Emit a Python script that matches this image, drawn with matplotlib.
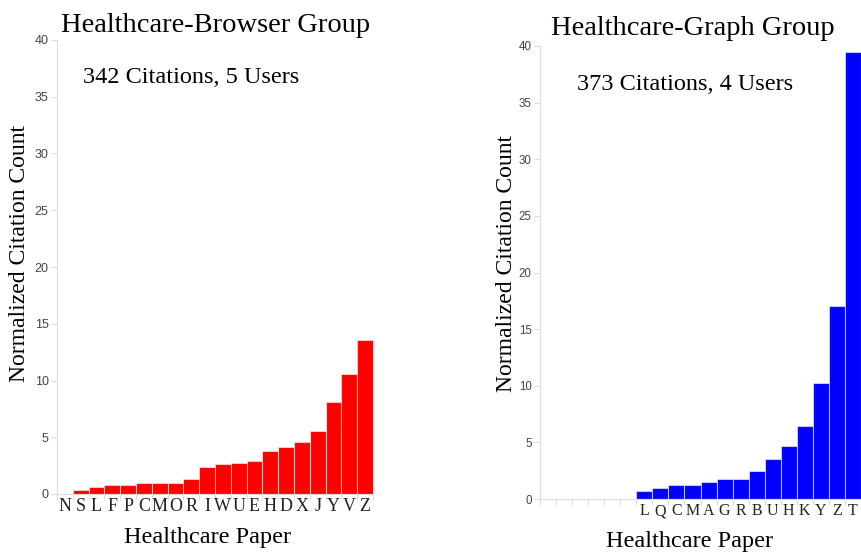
#! usr/bin/env python3

import numpy as np
import matplotlib.pyplot as plt

plt.rcParams['font.family'] = ['Liberation Serif', 'DejaVu Serif']

# Healthcare-Browser group
browser_papers = ['N', 'S', 'L', 'F', 'P', 'C', 'M', 'O', 'R', 'I',
                  'W', 'U', 'E', 'H', 'D', 'X', 'J', 'Y', 'V', 'Z']
browser_counts = [0.0, 0.35, 0.58, 0.8, 0.8, 0.95, 0.95, 0.95, 1.35, 2.35,
                  2.6, 2.75, 2.95, 3.75, 4.15, 4.55, 5.55, 8.1, 10.55, 13.6]

# Healthcare-Graph group (first six slots empty)
graph_papers = ['', '', '', '', '', '', 'L', 'Q', 'C', 'M',
                'A', 'G', 'R', 'B', 'U', 'H', 'K', 'Y', 'Z', 'T']
graph_counts = [0, 0, 0, 0, 0, 0, 0.73, 1.0, 1.24, 1.24,
                1.5, 1.76, 1.76, 2.5, 3.5, 4.7, 6.47, 10.2, 17.0, 39.45]

yticks = [0, 5, 10, 15, 20, 25, 30, 35, 40]

W, H = 861, 553
fig = plt.figure(figsize=(W/100, H/100), dpi=100)


def px_axes(x0, y0, x1, y1):
    return fig.add_axes([x0/W, 1 - y1/H, (x1-x0)/W, (y1-y0)/H])


def draw(ax, papers, counts, color, xfs, yfs):
    x = np.arange(len(papers))
    ax.bar(x, counts, width=1.0, color=color,
           edgecolor=(1, 1, 1, 0.55), linewidth=0.8)
    ax.set_xlim(-0.5, len(papers) - 0.5)
    ax.set_ylim(0, 40)
    for s in ['top', 'right']:
        ax.spines[s].set_visible(False)
    for s in ['left', 'bottom']:
        ax.spines[s].set_color('#dddddd')
        ax.spines[s].set_linewidth(0.8)
    ax.set_xticks(np.arange(-0.5, len(papers), 1))
    ax.set_xticklabels([])
    ax.set_xticks(x, minor=True)
    ax.set_xticklabels(papers, minor=True, fontsize=xfs, color='#222222')
    ax.tick_params(axis='x', which='major', length=4, color='#dddddd')
    ax.tick_params(axis='x', which='minor', length=0, pad=3)
    ax.set_yticks(yticks)
    ax.set_yticklabels([str(t) for t in yticks], family='Liberation Sans',
                       fontsize=yfs, color='#444444')
    ax.tick_params(axis='y', length=4, color='#dddddd', pad=2)


ax1 = px_axes(57, 40, 373, 494)
draw(ax1, browser_papers, browser_counts, '#ff0000', 13, 9)
ax2 = px_axes(540, 46, 861, 499)
draw(ax2, graph_papers, graph_counts, '#0000ff', 11.5, 8.3)

# titles and notes
fig.text(216/W, 1 - 32/H, 'Healthcare-Browser Group', ha='center', va='baseline', fontsize=20.5)
fig.text(693/W, 1 - 35/H, 'Healthcare-Graph Group', ha='center', va='baseline', fontsize=20.5)
fig.text(83/W, 1 - 83/H, '342 Citations, 5 Users', ha='left', va='baseline', fontsize=17.5)
fig.text(577/W, 1 - 90/H, '373 Citations, 4 Users', ha='left', va='baseline', fontsize=17.5)

fig.text(207/W, 1 - 543/H, 'Healthcare Paper', ha='center', va='baseline', fontsize=17.5)
fig.text(690/W, 1 - 547/H, 'Healthcare Paper', ha='center', va='baseline', fontsize=17.5)
fig.text(20/W, 1 - 253/H, 'Normalized Citation Count', ha='center', va='center',
         rotation=90, fontsize=17)
fig.text(507/W, 1 - 263/H, 'Normalized Citation Count', ha='center', va='center',
         rotation=90, fontsize=17)

plt.savefig('out.png', dpi=100)
